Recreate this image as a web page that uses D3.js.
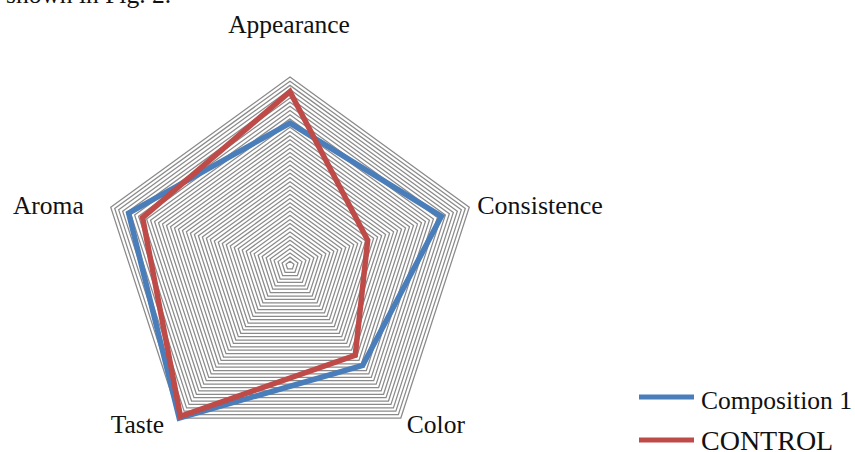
<!DOCTYPE html>
<html>
<head>
<meta charset="utf-8">
<script src="https://cdn.jsdelivr.net/npm/d3@7/dist/d3.min.js"></script>
<style>
  html, body { margin: 0; padding: 0; background: #fff; }
  svg { display: block; }
  text { font-family: "Liberation Serif", "Times New Roman", serif; fill: #111; }
</style>
</head>
<body>
<svg id="chart" width="855" height="452"></svg>
<script>
// Sensory attributes (axes, clockwise from the top)
const categories = ["Appearance", "Consistence", "Color", "Taste", "Aroma"];
// Mean scores on a 9-point scale
const composition1 = [6.8, 7.6, 5.9, 9.0, 8.1];
const control = [8.3, 3.9, 5.3, 8.9, 7.4];
const seriesNames = ["Composition 1", "CONTROL"];
const seriesColors = ["#4a7ebb", "#be4b48"];
// Radial scale: 0 to 9 with gridlines every 0.2
const scaleMax = 9;
const gridStep = 0.2;

const svg = d3.select("#chart");
const cx = 290, cy = 265.5, R = 188.5;

const r = d3.scaleLinear().domain([0, scaleMax]).range([0, R]);
const angle = d3.scalePoint().domain(categories).range([0, 2 * Math.PI * (categories.length - 1) / categories.length]);

const pt = (cat, v) => {
  const a = angle(cat);
  return [cx + r(v) * Math.sin(a), cy - r(v) * Math.cos(a)];
};

// Text line above the figure (continuation of the page body)
svg.append("text")
  .attr("x", 6).attr("y", 3)
  .style("font-size", "25.5px")
  .text("shown in Fig. 2.");

// Concentric pentagon gridlines
const levels = d3.range(1, Math.round(scaleMax / gridStep) + 1).map(i => i * gridStep);
const ring = d3.line().curve(d3.curveLinearClosed);
svg.append("g")
  .selectAll("path")
  .data(levels)
  .join("path")
  .attr("d", v => ring(categories.map(c => pt(c, v))))
  .attr("fill", "none")
  .attr("stroke", "#8a8a8a")
  .attr("stroke-width", 1.25);

// Series polygons
const series = [composition1, control];
svg.append("g")
  .selectAll("path")
  .data(series)
  .join("path")
  .attr("d", vals => ring(categories.map((c, i) => pt(c, vals[i]))))
  .attr("fill", "none")
  .attr("stroke", (d, i) => seriesColors[i])
  .attr("stroke-width", 5.5)
  .attr("stroke-linejoin", "miter");

// Axis labels placed just outside the outer ring
const labelOffsets = {
  "Appearance": { dx: -1, dy: -44, anchor: "middle" },
  "Consistence": { dx: 8, dy: 7, anchor: "start" },
  "Color": { dx: 6, dy: 15, anchor: "start" },
  "Taste": { dx: -15, dy: 15, anchor: "end" },
  "Aroma": { dx: -27, dy: 7, anchor: "end" }
};
svg.append("g")
  .selectAll("text")
  .data(categories)
  .join("text")
  .attr("x", c => pt(c, scaleMax)[0] + labelOffsets[c].dx)
  .attr("y", c => pt(c, scaleMax)[1] + labelOffsets[c].dy)
  .attr("text-anchor", c => labelOffsets[c].anchor)
  .style("font-size", c => c === "Consistence" ? "26px" : "25.5px")
  .text(c => c);

// Legend
const legend = svg.append("g").attr("transform", "translate(639,0)");
const legendY = [397, 440];
const legendFont = ["25.5px", "28px"];
const legendBase = [409, 450];
seriesNames.forEach((name, i) => {
  legend.append("line")
    .attr("x1", 0).attr("x2", 55)
    .attr("y1", legendY[i]).attr("y2", legendY[i])
    .attr("stroke", seriesColors[i])
    .attr("stroke-width", 5);
  legend.append("text")
    .attr("x", 62).attr("y", legendBase[i])
    .style("font-size", legendFont[i])
    .text(name);
});
</script>
</body>
</html>
